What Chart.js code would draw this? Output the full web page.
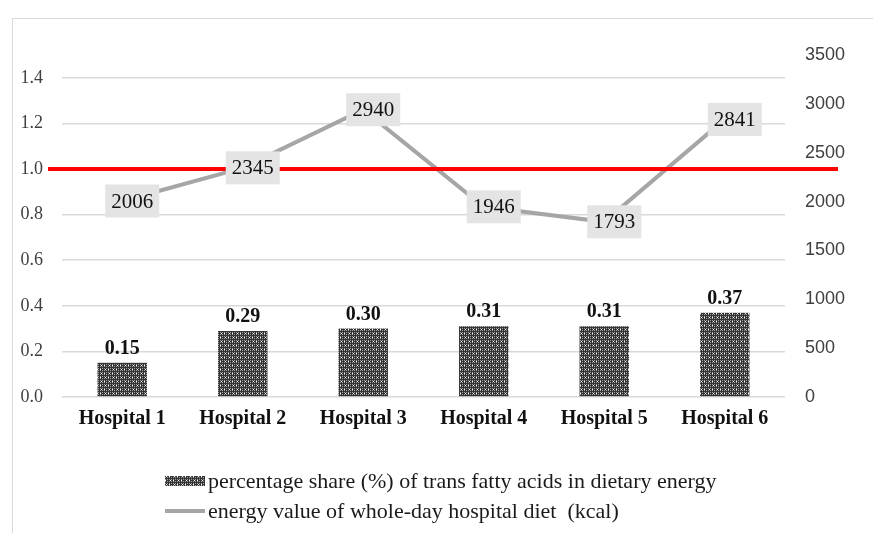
<!DOCTYPE html>
<html>
<head>
<meta charset="utf-8">
<script src="https://cdn.jsdelivr.net/npm/chart.js@4.4.1/dist/chart.umd.min.js"></script>
<style>
  html, body { margin: 0; padding: 0; background: #ffffff; }
  #wrap { position: relative; width: 873px; height: 533px; overflow: hidden; }
  #frame { position: absolute; left: 12px; top: 18px; width: 900px; height: 600px;
           border-left: 1px solid #d9d9d9; border-top: 1px solid #d9d9d9; }
  #chart { position: absolute; left: 0; top: 0; }
  #legend { position: absolute; left: 165px; top: 466px; font-family: "Liberation Serif", serif;
            font-size: 22px; color: #1a1a1a; }
  .row { display: flex; align-items: center; height: 30px; white-space: pre; }
  .sw { width: 40px; margin-right: 3px; flex: none; }
</style>
</head>
<body>
<div id="wrap">
  <div id="frame"></div>
  <canvas id="chart" width="873" height="533"></canvas>
  <div id="legend"></div>
</div>
<script>
// Hospitals compared
const categories = ['Hospital 1', 'Hospital 2', 'Hospital 3', 'Hospital 4', 'Hospital 5', 'Hospital 6'];
// Share (%) of trans fatty acids in dietary energy
const transFatShare = [0.15, 0.29, 0.30, 0.31, 0.31, 0.37];
// Energy value of the whole-day hospital diet (kcal)
const dietEnergy = [2006, 2345, 2940, 1946, 1793, 2841];
// Recommended upper limit for trans fat share (%)
const referenceLevel = 1.0;
// Axis ticks
const leftTicks = [0, 0.2, 0.4, 0.6, 0.8, 1.0, 1.2, 1.4];
const rightTicks = [0, 500, 1000, 1500, 2000, 2500, 3000, 3500];

const seriesNames = [
  'percentage share (%) of trans fatty acids in dietary energy',
  'energy value of whole-day hospital diet  (kcal)'
];

// Dotted fill used for the bars
function makePattern() {
  const c = document.createElement('canvas');
  c.width = 8; c.height = 8;
  const g = c.getContext('2d');
  g.fillStyle = '#333333';
  g.fillRect(0, 0, 8, 8);
  g.fillStyle = '#a0a0a0';
  for (let y = 0; y < 8; y += 2) {
    for (let x = 0; x < 8; x += 2) g.fillRect(x, y, 1, 1);
  }
  g.fillStyle = '#ffffff';
  g.fillRect(1, 1, 1, 1);
  g.fillRect(5, 5, 1, 1);
  g.fillRect(4, 1, 1, 1);
  g.fillRect(0, 5, 1, 1);
  return g.createPattern(c, 'repeat');
}
const barPattern = makePattern();

const serif = '"Liberation Serif", "Times New Roman", serif';
const narrow = '"Liberation Sans Narrow", "Liberation Sans", Arial, sans-serif';

// Horizontal reference line at the limit value
const referenceLine = {
  id: 'referenceLine',
  afterDatasetsDraw(chart) {
    const ctx = chart.ctx;
    const y = chart.scales.y.getPixelForValue(referenceLevel);
    const a = chart.chartArea;
    ctx.save();
    ctx.strokeStyle = '#ff0000';
    ctx.lineWidth = 4;
    ctx.beginPath();
    ctx.moveTo(a.left - 14, y);
    ctx.lineTo(a.right + 53, y);
    ctx.stroke();
    ctx.restore();
  }
};

// Value labels for bars and line points
const valueLabels = {
  id: 'valueLabels',
  afterDatasetsDraw(chart) {
    const ctx = chart.ctx;
    ctx.save();
    const bars = chart.getDatasetMeta(0).data;
    ctx.font = 'bold 20px ' + serif;
    ctx.fillStyle = '#111111';
    ctx.textAlign = 'center';
    ctx.textBaseline = 'bottom';
    bars.forEach((b, i) => {
      ctx.fillText(transFatShare[i].toFixed(2), b.x, b.y - 4);
    });
    const pts = chart.getDatasetMeta(1).data;
    ctx.font = '21px ' + serif;
    ctx.textBaseline = 'middle';
    pts.forEach((p, i) => {
      const cx = p.x + 10, cy = p.y;
      const w = 54, h = 33;
      ctx.fillStyle = '#e4e4e4';
      ctx.fillRect(cx - w / 2, cy - h / 2, w, h);
      ctx.fillStyle = '#111111';
      ctx.fillText(String(dietEnergy[i]), cx, cy + 1);
    });
    ctx.restore();
  }
};

const chart = new Chart(document.getElementById('chart'), {
  data: {
    labels: categories,
    datasets: [
      {
        type: 'bar',
        label: seriesNames[0],
        data: transFatShare,
        backgroundColor: barPattern,
        borderWidth: 0,
        barPercentage: 0.41,
        categoryPercentage: 1.0,
        yAxisID: 'y',
        order: 2
      },
      {
        type: 'line',
        label: seriesNames[1],
        data: dietEnergy,
        borderColor: '#a6a6a6',
        borderWidth: 4,
        pointRadius: 0,
        tension: 0,
        fill: false,
        yAxisID: 'y1',
        order: 1
      }
    ]
  },
  options: {
    responsive: false,
    animation: false,
    layout: { padding: { top: 55, bottom: 96, left: 0, right: 0 } },
    plugins: { legend: { display: false }, tooltip: { enabled: false } },
    scales: {
      x: {
        grid: { display: false, drawTicks: false },
        border: { display: false },
        ticks: { font: { family: serif, size: 20, weight: 'bold' }, color: '#111111', padding: 10, maxRotation: 0 },
        afterFit(s) { s.height = 40; }
      },
      y: {
        position: 'left',
        min: 0, max: 1.5,
        afterBuildTicks(s) { s.ticks = leftTicks.map(v => ({ value: v })); },
        grid: { color: '#d9d9d9', lineWidth: 1.5, drawTicks: false },
        border: { display: false },
        ticks: { font: { family: serif, size: 18 }, color: '#404040', padding: 19,
                 callback: v => Number(v).toFixed(1) },
        afterFit(s) { s.width = 62; }
      },
      y1: {
        position: 'right',
        min: 0, max: 3500,
        afterBuildTicks(s) { s.ticks = rightTicks.map(v => ({ value: v })); },
        grid: { drawOnChartArea: false, drawTicks: false },
        border: { display: false },
        ticks: { font: { family: narrow, size: 18 }, color: '#404040', padding: 20,
                 callback: v => String(v) },
        afterFit(s) { s.width = 88; }
      }
    }
  },
  plugins: [referenceLine, valueLabels]
});

// Legend built from the chart's datasets
const legend = document.getElementById('legend');
chart.data.datasets.forEach((ds, i) => {
  const row = document.createElement('div');
  row.className = 'row';
  const sw = document.createElement('canvas');
  sw.className = 'sw';
  sw.width = 40; sw.height = 12;
  const g = sw.getContext('2d');
  if (ds.type === 'bar') {
    g.fillStyle = barPattern;
    g.fillRect(0, 1, 40, 10);
  } else {
    g.fillStyle = ds.borderColor;
    g.fillRect(0, 4, 40, 4);
  }
  const t = document.createElement('span');
  t.textContent = ds.label;
  row.appendChild(sw);
  row.appendChild(t);
  legend.appendChild(row);
});
</script>
</body>
</html>
